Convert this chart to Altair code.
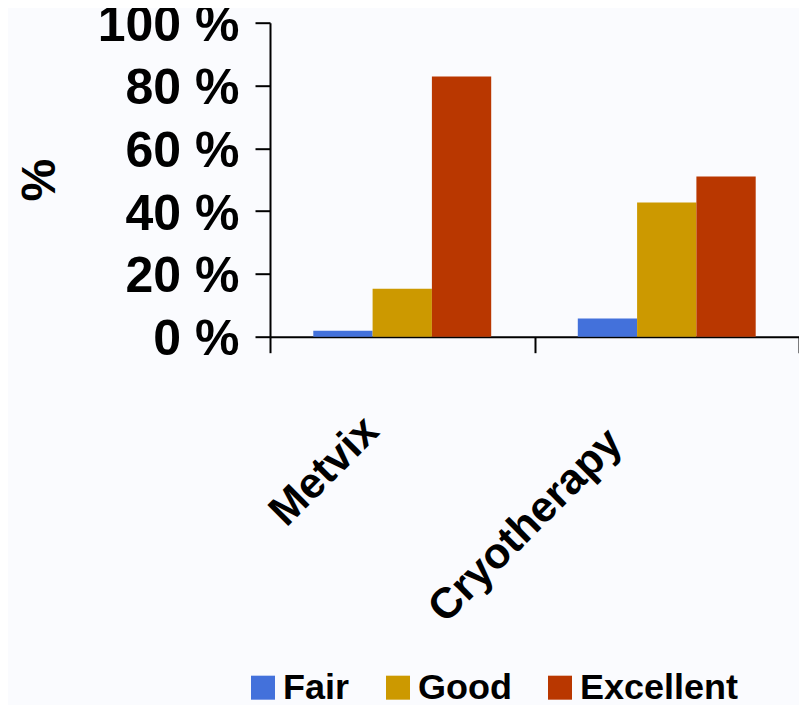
import altair as alt
import pandas as pd

categories = ["Metvix", "Cryotherapy"]
ratings = ["Fair", "Good", "Excellent"]
metvix = [1.9, 15.3, 82.9]
cryotherapy = [5.8, 42.7, 51.0]
y_ticks = [0, 20, 40, 60, 80, 100]
colors = ["#4371DB", "#CC9900", "#B93700"]

rows = []
for cat, vals in zip(categories, [metvix, cryotherapy]):
    for r, v in zip(ratings, vals):
        rows.append({"Treatment": cat, "Rating": r, "Percent": v})
df = pd.DataFrame(rows)

FONT = "Liberation Sans"

chart = alt.Chart(df).mark_bar().encode(
    x=alt.X(
        "Treatment:N",
        sort=categories,
        scale=alt.Scale(paddingInner=0, paddingOuter=0),
        axis=alt.Axis(
            title=None,
            labelAngle=315,
            labelAlign="right",
            labelBaseline="middle",
            labelFont=FONT,
            labelFontSize=43,
            labelFontWeight="bold",
            labelColor="black",
            labelLimit=0,
            labelPadding={"condition": {"test": "datum.value == 'Metvix'", "value": 71}, "value": 83},
            labelOffset={"condition": {"test": "datum.value == 'Metvix'", "value": -31}, "value": -52},
            tickBand="extent",
            tickSize=16,
            tickWidth=2,
            tickColor="black",
            domainColor="black",
            domainWidth=2,
            grid=False,
        ),
    ),
    xOffset=alt.XOffset(
        "Rating:N", sort=ratings, scale=alt.Scale(paddingInner=0, paddingOuter=0.73)
    ),
    y=alt.Y(
        "Percent:Q",
        scale=alt.Scale(domain=[0, 100], nice=False),
        axis=alt.Axis(
            values=y_ticks,
            labelExpr="datum.value + ' %'",
            title="%",
            titleFont=FONT,
            titleFontSize=48,
            titleFontWeight="bold",
            titleColor="black",
            titlePadding=33,
            labelFont=FONT,
            labelFontSize=50,
            labelFontWeight="bold",
            labelColor="black",
            labelPadding=16,
            labelOffset=3,
            tickSize=15,
            tickWidth=2,
            tickColor="black",
            domainColor="black",
            domainWidth=2,
            grid=False,
        ),
    ),
    color=alt.Color(
        "Rating:N",
        sort=ratings,
        scale=alt.Scale(domain=ratings, range=colors),
        legend=alt.Legend(
            title=None,
            orient="none",
            direction="horizontal",
            legendX=-25,
            legendY=647,
            symbolType="square",
            symbolSize=576,
            symbolStrokeWidth=0,
            labelFont=FONT,
            labelFontSize=36,
            labelFontWeight="bold",
            labelColor="black",
            labelLimit=0,
            labelOffset=2,
            columnPadding=30,
        ),
    ),
).properties(
    width=529,
    height=314,
    autosize=alt.AutoSizeParams(type="none"),
    padding={"left": 262, "top": 14.7, "right": 0, "bottom": 368},
    background="#FAFBFE",
).configure_view(stroke=None)

chart.save("out.html", embed_options={"renderer": "svg", "actions": False})
